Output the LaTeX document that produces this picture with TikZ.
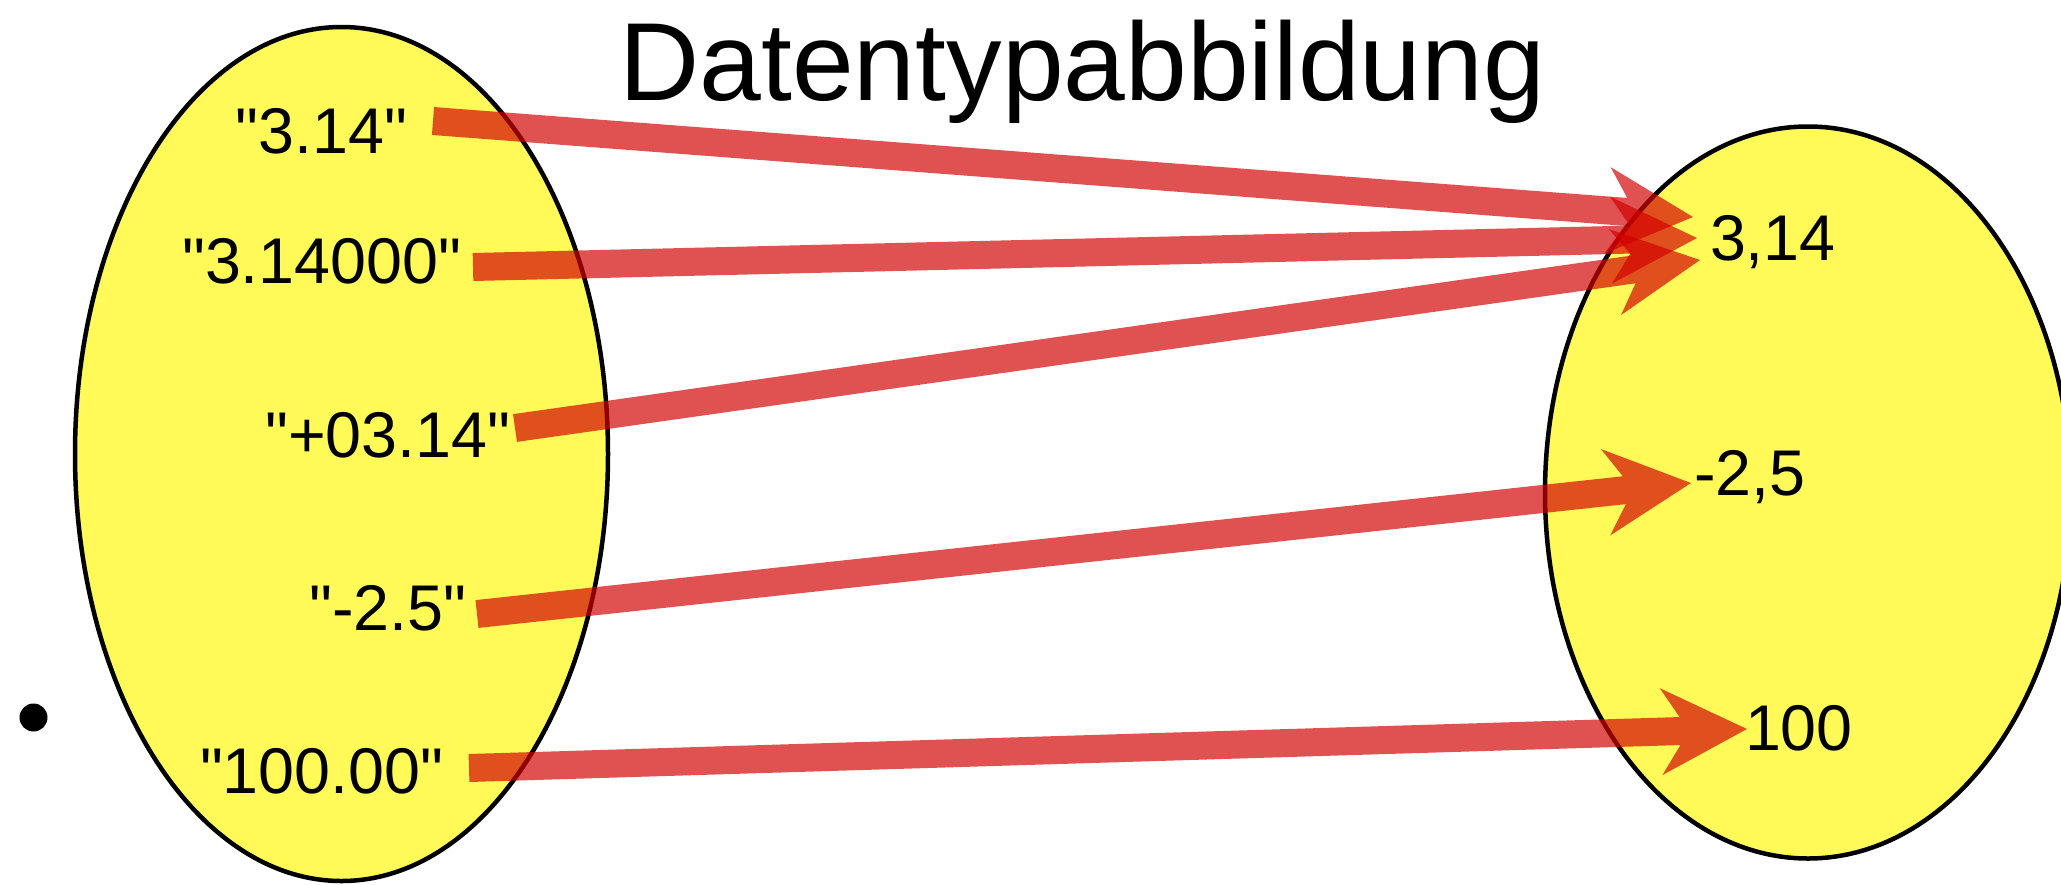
\documentclass[tikz,border=0pt]{standalone}
\usepackage{fontspec}
% a family without TeX quote ligatures, so " stays a straight double quote
\newfontfamily\plainsans{Liberation Sans}
\usetikzlibrary{calc,shapes.geometric}

\definecolor{setyellow}{RGB}{255,250,88}
\definecolor{mapred}{RGB}{210,0,0}

% Broad arrow from #1 to #2 as one filled outline: shaft, notched head, tip at #2
\newcommand\DrawMapArrow[2]{%
  \coordinate (#2-n) at ($(#2)!33.5pt!(#1)$);
  \coordinate (#2-b) at ($(#2)!43pt!(#1)$);
  \fill[maparrow]
    ($(#1)!7pt!90:(#2)$) -- ($(#2-n)!7pt!90:(#2)$) -- ($(#2-b)!21.75pt!90:(#2)$)
    -- (#2)
    -- ($(#2-b)!21.75pt!-90:(#2)$) -- ($(#2-n)!7pt!-90:(#2)$) -- ($(#1)!7pt!-90:(#2)$)
    -- cycle;
}

\begin{document}
\begin{tikzpicture}[x=0.5pt,y=-0.5pt,
  setellipse/.style={ellipse, draw=black, line width=2.25pt, fill=setyellow,
                     inner sep=0pt, outer sep=0pt},
  lab/.style={inner sep=0pt, outer sep=0pt, font=\plainsans\fontsize{32.3pt}{38pt}\selectfont},
  headline/.style={inner sep=0pt, outer sep=0pt, font=\plainsans\fontsize{55.5pt}{64pt}\selectfont},
  maparrow/.style={fill=mapred, fill opacity=0.68}]

\useasboundingbox[fill=white] (0,0) rectangle (2061,884);

% the two value sets
\node[setellipse, minimum width=266.5pt, minimum height=427pt] (dom) at (341.5,454) {};
\node[setellipse, minimum width=263pt, minimum height=366pt] (cod) at (1808,492.5) {};

% heading
\node[headline, anchor=base west] (title) at (619.5,100) {Datentypabbildung};

% bullet
\node[circle, fill=black, inner sep=0pt, minimum size=14pt] (bullet) at (33.5,717.5) {};

% strings
\node[lab, anchor=base east] (l1) at (407.5,153) {"3.14"};
\node[lab, anchor=base east] (l2) at (461.5,283) {"3.14000"};
\node[lab, anchor=base east] (l3) at (510.5,457) {"+03.14"};
\node[lab, anchor=base east] (l4) at (466.5,630) {"-2.5"};
\node[lab, anchor=base east] (l5) at (443.5,793) {"100.00"};

% numbers
\node[lab, anchor=base west] (r1) at (1710,260) {3,14};
\node[lab, anchor=base west] (r2) at (1694,495) {-2,5};
\node[lab, anchor=base west] (r3) at (1745,750) {100};

% arrow ends
\coordinate (s1) at (433,121);  \coordinate (t1) at (1693,217);
\coordinate (s2) at (473,267);  \coordinate (t2) at (1697,238);
\coordinate (s3) at (515,428);  \coordinate (t3) at (1700,260);
\coordinate (s4) at (477,614);  \coordinate (t4) at (1691,483);
\coordinate (s5) at (469,768);  \coordinate (t5) at (1747,729);

\DrawMapArrow{s1}{t1}
\DrawMapArrow{s2}{t2}
\DrawMapArrow{s3}{t3}
\DrawMapArrow{s4}{t4}
\DrawMapArrow{s5}{t5}

\end{tikzpicture}
\end{document}
